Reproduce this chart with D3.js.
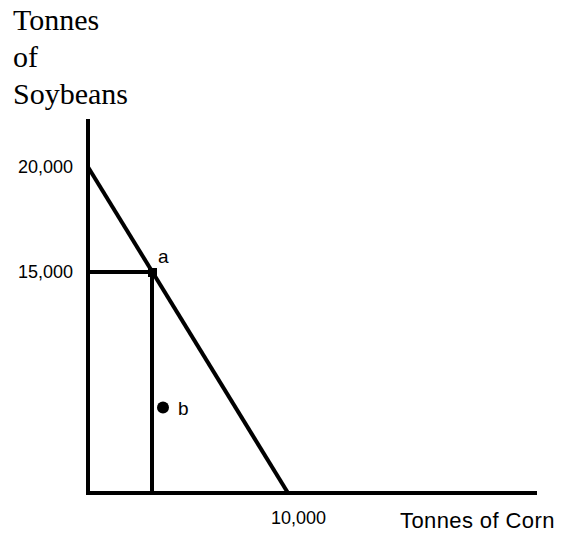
<!DOCTYPE html>
<html>
<head>
<meta charset="utf-8">
<script src="https://cdn.jsdelivr.net/npm/d3@7"></script>
<style>
  body { margin: 0; background: #fff; }
  svg text { fill: #000; }
</style>
</head>
<body>
<svg id="chart"></svg>
<script>
//SET CONSTANTS
const width = 561;
const height = 533;

// data
const titleLines = ["Tonnes", "of", "Soybeans"];
const frontier = [{corn: 0, soy: 20000}, {corn: 10000, soy: 0}];
const yTicks = [15000, 20000];
const xTicks = [10000];
const points = [
  {name: "a", corn: 3200, soy: 15000},
  {name: "b", corn: 3750, soy: 5800}
];
const xLabel = "Tonnes of Corn";

// picture isn't drawn to scale, so the y scale is piecewise
var xScale = d3.scaleLinear().domain([0, 22450]).range([88, 537]);
var yScale = d3.scaleLinear().domain([0, 15000, 20000, 22300]).range([493, 272, 167, 119]);

var chart = d3.select("#chart")
  .attr("width", width)
  .attr("height", height);

// title (stacked lines)
chart.append("text")
  .attr("x", 13)
  .attr("y", 30)
  .style("font-family", "'Liberation Serif', 'Times New Roman', serif")
  .style("font-size", "30px")
  .selectAll("tspan").data(titleLines).enter().append("tspan")
  .attr("x", 13)
  .attr("dy", (d, i) => i == 0 ? 0 : 37)
  .text(d => d);

// axes
var xAxis = chart.append("g")
  .attr("transform", "translate(0," + yScale(0) + ")")
  .call(d3.axisBottom(xScale).tickValues(xTicks).tickSize(0).tickPadding(18)
    .tickFormat(d3.format(",")));

var yAxis = chart.append("g")
  .attr("transform", "translate(" + xScale(0) + ",0)")
  .call(d3.axisLeft(yScale).tickValues(yTicks).tickSize(0).tickPadding(15)
    .tickFormat(d3.format(",")));

[xAxis, yAxis].forEach(function(g) {
  g.select(".domain").attr("stroke", "#000").attr("stroke-width", 4);
  g.selectAll("text")
    .style("font-family", "'Liberation Sans', Arial, sans-serif")
    .style("font-size", "18px");
});
xAxis.select(".domain").attr("d", "M" + (xScale(0) - 2) + ",0H" + xScale.range()[1]);
yAxis.select(".domain").attr("d", "M0," + yScale.range()[3] + "V" + (yScale(0) + 2));
xAxis.selectAll("text").attr("dx", "10px");

chart.append("text")
  .attr("x", 400)
  .attr("y", yScale(0) + 35)
  .style("font-family", "'Liberation Sans', Arial, sans-serif")
  .style("font-size", "22px")
  .style("letter-spacing", "0.4px")
  .text(xLabel);

// production possibility frontier
var line = d3.line().x(d => xScale(d.corn)).y(d => yScale(d.soy));
chart.append("path")
  .datum(frontier)
  .attr("d", line)
  .attr("fill", "none")
  .attr("stroke", "#000")
  .attr("stroke-width", 4);

// guide lines to point a
var a = points[0];
chart.append("path")
  .attr("d", "M" + xScale(0) + "," + yScale(a.soy) + "H" + xScale(a.corn) + "V" + yScale(0))
  .attr("fill", "none")
  .attr("stroke", "#000")
  .attr("stroke-width", 4);

chart.append("rect")
  .attr("x", xScale(a.corn) - 4)
  .attr("y", yScale(a.soy) - 4)
  .attr("width", 9)
  .attr("height", 9)
  .attr("fill", "#000");

// point b
var b = points[1];
chart.append("circle")
  .attr("cx", xScale(b.corn))
  .attr("cy", yScale(b.soy))
  .attr("r", 6)
  .attr("fill", "#000");

// point labels
chart.selectAll(".plabel").data(points).enter().append("text")
  .attr("class", "plabel")
  .attr("x", (d, i) => i == 0 ? xScale(d.corn) + 6 : xScale(d.corn) + 15)
  .attr("y", (d, i) => i == 0 ? yScale(d.soy) - 9 : yScale(d.soy) + 7)
  .style("font-family", "'Liberation Sans', Arial, sans-serif")
  .style("font-size", "19px")
  .text(d => d.name);
</script>
</body>
</html>
